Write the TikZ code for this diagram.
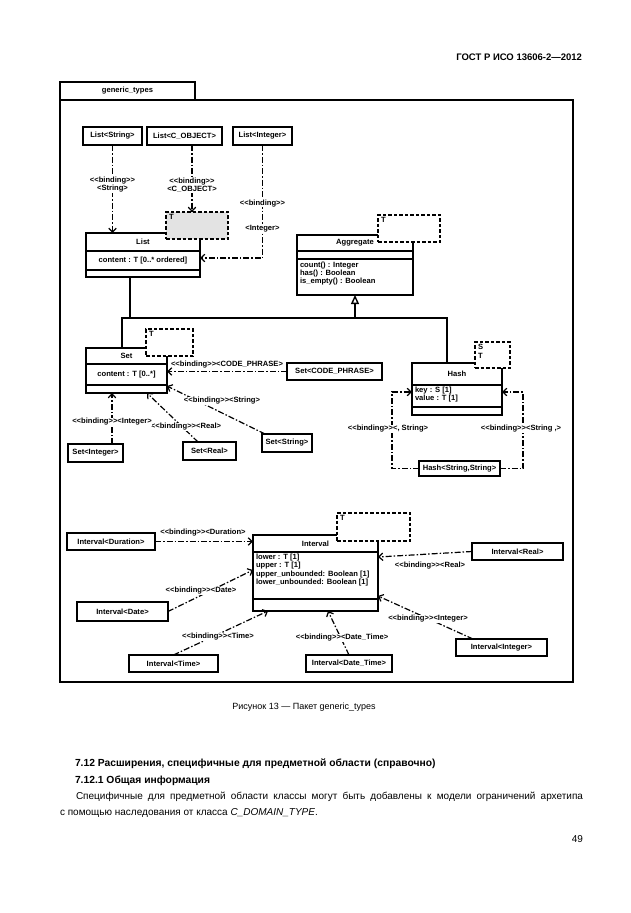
\documentclass[tikz,border=0pt]{standalone}
\usepackage{fontspec}
\setmainfont{Liberation Sans}
\usetikzlibrary{arrows.meta}
\newcommand\dfont{\fontsize{7.6}{8.4}\selectfont}
\newcommand\bnd{<\kern0pt<binding>\kern0pt>}
\newcommand\instbox[6]{\node[inst, minimum width={(#4-#2)*1pt}, minimum height={(#5-#3)*1pt}] (#1) at ({(#2+#4)/2},{(#3+#5)/2}) {#6};}
\newcommand\umlclass[9]{%
  \node[cls, minimum width={(#4-#2)*1pt}, minimum height={(#5-#3)*1pt}] (#1) at ({(#2+#4)/2},{(#3+#5)/2}) {};
  \draw[clsline] (#2,#6) -- (#4,#6) (#2,#7) -- (#4,#7);
  \node[ttl] at ({(#2+#4)/2},{(#3+#6)/2}) {#8};
  \node[attr, anchor=north west, align=left] at (#2+3,#6+2) {#9};}
\newcommand\tplbox[7][white]{%
  \node[tpl, fill=#1, minimum width={(#5-#3)*1pt}, minimum height={(#6-#4)*1pt}] (#2) at ({(#3+#5)/2},{(#4+#6)/2}) {};
  \node[attr, anchor=north west, align=left] at ([xshift=3pt,yshift=-2.5pt]#2.north west) {#7};}
\begin{document}
\begin{tikzpicture}[x=1pt,y=-1pt,
  every node/.style={inner sep=0pt, outer sep=0pt},
  inst/.style={draw, line width=1.7pt, font=\dfont\bfseries, fill=white},
  cls/.style={draw, line width=1.5pt, fill=white},
  clsline/.style={line width=1.3pt},
  ttl/.style={font=\dfont\bfseries},
  attr/.style={font=\dfont\bfseries},
  tpl/.style={draw, line width=1.3pt, dash pattern=on 3.5pt off 2pt},
  lbl/.style={font=\dfont\bfseries, inner sep=0.6pt},
  lblw/.style={lbl, fill=white},
  bind/.style={line width=1.2pt, dash pattern=on 6pt off 2pt on 1.5pt off 2pt, -{Straight Barb[length=4pt,width=7.5pt]}},
  assoc/.style={line width=1.4pt},
  frame/.style={draw, line width=1.6pt}]
\useasboundingbox (0,0) rectangle (630,913);

% package frame
\node[frame, minimum width=513pt, minimum height=582pt] (pkg) at (316.5,391) {};
\node[frame, font=\dfont\bfseries, minimum width=135pt, minimum height=18pt] (tab) at (127.5,91) {generic\_types};

% classes
\umlclass{List}{86}{233}{200}{277}{251}{270}{List}{}
\node[attr] (listattr) at (143,260.5) {content : T [0..* ordered]};
\umlclass{Agg}{297}{235}{413}{295}{251}{259}{Aggregate}{}
\node[attr, anchor=north west, align=left] (aggops) at (300,261.5) {count() : Integer\\has() : Boolean\\is\_empty() : Boolean};
\umlclass{Set}{86}{348}{167}{393}{364}{385}{Set}{}
\node[attr] (setattr) at (126.5,374.5) {content : T [0..*]};
\umlclass{Hash}{412}{363}{502}{415}{385}{407}{Hash}{key : S [1]\\value : T [1]}
\umlclass{Int}{253}{535}{378}{611}{552}{599}{Interval}{lower : T [1]\\upper : T [1]\\upper\_unbounded: Boolean [1]\\lower\_unbounded: Boolean [1]}

% template parameter boxes
\tplbox[gray!22]{tL}{166}{212}{228}{239}{T}
\tplbox{tA}{378}{215}{440}{242}{T}
\tplbox{tS}{146}{329}{193}{356}{T}
\tplbox{tH}{475}{342}{510}{368}{S\\T}
\tplbox{tI}{337}{513}{410}{541}{T}

% bound classes
\instbox{ls}{83}{127}{142}{145}{List<String>}
\instbox{lc}{147}{127}{222}{145}{List<C\_OBJECT>}
\instbox{li}{233}{127}{292}{145}{List<Integer>}
\instbox{scp}{287}{363}{382}{380}{Set<CODE\_PHRASE>}
\instbox{sst}{262}{434}{312}{452}{Set<String>}
\instbox{sre}{183}{442}{236}{460}{Set<Real>}
\instbox{sin}{68}{444}{123}{462}{Set<Integer>}
\instbox{hss}{419}{461}{500}{476}{Hash<String,String>}
\instbox{idu}{67}{533}{155}{550}{Interval<Duration>}
\instbox{ida}{77}{602}{168}{621}{Interval<Date>}
\instbox{iti}{129}{655}{218}{672}{Interval<Time>}
\instbox{idt}{306}{655}{392}{672}{Interval<Date\_Time>}
\instbox{ire}{472}{543}{563}{560}{Interval<Real>}
\instbox{iin}{456}{639}{547}{656}{Interval<Integer>}

% generalization tree
\coordinate (hL) at (122,318);
\coordinate (hR) at (447,318);
\coordinate (jL) at (130,318);
\coordinate (jA) at (355,318);
\draw[assoc] (Set.north -| hL) -- (hL) -- (hR) -- (hR |- Hash.north);
\draw[assoc] (List.south -| jL) -- (jL);
\draw[assoc, -{Triangle[open, length=9pt, width=8pt]}] (jA) -- (jA |- Agg.south);

% List bindings
\draw[bind] (ls.south) -- (ls.south |- List.north)
  node[lblw, align=center, pos=0.45] {\bnd\\<String>};
\coordinate (lcs) at ([xshift=7.5pt]lc.south);
\draw[bind] (lcs) -- (lcs |- tL.north)
  node[lblw, align=center, pos=0.6] {\bnd\\<C\_OBJECT>};
\coordinate (lie) at ([yshift=-3pt]List.east);
\draw[bind] (li.south) |- (lie)
  node[lblw, pos=0.257] {\bnd}
  node[lblw, pos=0.372] {<Integer>};

% Set bindings
\draw[bind] (scp.west) -- (scp.west -| Set.east)
  node[lbl, midway, yshift=6.5pt] {\bnd<CODE\_PHRASE>};
\coordinate (setse) at ([yshift=7pt]Set.south east);
\coordinate (sstnw) at ([xshift=3pt]sst.north west);
\draw[bind] (sstnw) -- (setse);
\node[lblw] (lsst) at (222,401) {\bnd<String>};
\coordinate (sres) at ([xshift=-11.5pt]sre.north);
\coordinate (sett) at ([xshift=20.5pt]Set.south);
\draw[bind] (sres) -- (sett);
\node[lblw] (lsre) at (186,427) {\bnd<Real>};
\coordinate (sins) at ([xshift=16.5pt]sin.north);
\draw[bind] (sins) -- (sins |- Set.south);
\node[lblw] (lsin) at (112,422) {\bnd<Integer>};

% Hash bindings
\draw[bind] (hss.west) -- ++(-27,0) |- ([yshift=-3pt]Hash.west);
\draw[bind] (hss.east) -- ++(23,0) |- ([yshift=-3pt]Hash.east);
\node[lblw] (lh1) at (388,429) {\bnd<, String>};
\node[lblw] (lh2) at (521,429) {\bnd<String ,>};

% Interval bindings
\draw[bind] (idu.east) -- (idu.east -| Int.west);
\node[lbl] (lidu) at (203,533) {\bnd<Duration>};
\draw[bind] (ida.east) -- ([yshift=3pt]Int.west);
\node[lblw] (lida) at (201,591) {\bnd<Date>};
\draw[bind] (iti.north) -- ([xshift=-47.5pt]Int.south);
\node[lblw] (liti) at (218,637) {\bnd<Time>};
\draw[bind] (idt.north) -- ([xshift=12.5pt]Int.south);
\node[lblw] (lidt) at (342,638) {\bnd<Date\_Time>};
\draw[bind] (ire.west) -- ([yshift=16pt]Int.east);
\node[lbl] (lire) at (430,566) {\bnd<Real>};
\draw[bind] ([xshift=17pt]iin.north west) -- ([yshift=-23pt]Int.east);
\node[lblw] (liin) at (428,619) {\bnd<Integer>};

% page texts
\node[anchor=east, font=\fontsize{9.5}{11}\selectfont\bfseries] (hdr) at (582,57) {ГОСТ Р ИСО 13606-2—2012};
\node[font=\fontsize{9}{11}\selectfont] (cap) at (304,707) {Рисунок 13 — Пакет generic\_types};
\node[anchor=west, font=\fontsize{10.3}{12}\selectfont\bfseries] (h1) at (75,764) {7.12 Расширения, специфичные для предметной области (справочно)};
\node[anchor=west, font=\fontsize{10.3}{12}\selectfont\bfseries] (h2) at (75,781) {7.12.1 Общая информация};
\node[anchor=west, font=\fontsize{10}{12}\selectfont] (p1) at (76,797) {\makebox[507pt][s]{Специфичные для предметной области классы могут быть добавлены к модели ограничений архетипа}};
\node[anchor=west, font=\fontsize{10}{12}\selectfont] (p2) at (60,813) {с помощью наследования от класса \textit{C\_DOMAIN\_TYPE}.};
\node[anchor=east, font=\fontsize{10}{12}\selectfont] (pg) at (583,839) {49};
\end{tikzpicture}
\end{document}
